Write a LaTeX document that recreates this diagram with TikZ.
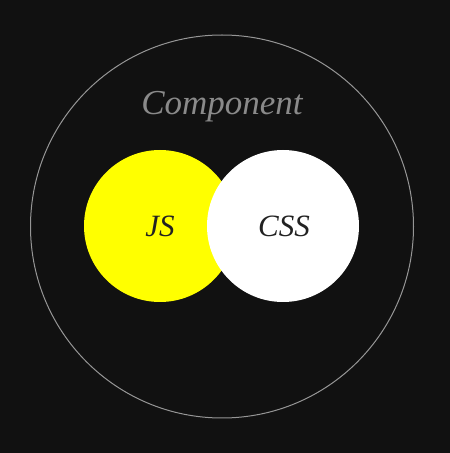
\documentclass[tikz,border=0pt]{standalone}
\usepackage{tikz}
\usetikzlibrary{backgrounds}
\usepackage{xcolor}
\usepackage{fontspec}
\setmainfont{Liberation Serif}
\definecolor{page-dark}{RGB}{17,17,17}
\definecolor{ring-grey}{RGB}{150,150,150}
\definecolor{label-grey}{RGB}{138,138,138}
\definecolor{js-yellow}{RGB}{255,255,0}
\definecolor{ink-dark}{RGB}{34,34,34}
\tikzstyle{ring}=[circle, draw=ring-grey, line width=1pt, minimum size=383pt, inner sep=0pt]
\tikzstyle{blob}=[circle, minimum size=152pt, inner sep=0pt]
\tikzstyle{jsblob}=[blob, fill=js-yellow]
\tikzstyle{cssblob}=[blob, fill=white]
\tikzstyle{caption}=[font=\fontsize{35}{38}\selectfont\itshape, text=label-grey, anchor=base]
\tikzstyle{tag}=[font=\fontsize{31}{34}\selectfont\itshape, text=ink-dark, anchor=base]
\tikzstyle{rectangular}=[x=1pt, y=1pt]

\begin{document}
\begin{tikzpicture}[rectangular]
	\fill[page-dark] (0,0) rectangle (450,453);
	\useasboundingbox (0,0) rectangle (450,453);
	\node[ring] (component) at (222,226.5) {};
	\node[jsblob] (js) at (160,227) {};
	\node[cssblob] (css) at (283,227) {};
	\node[caption] (component-label) at (222,338) {Component};
	\node[tag] (js-label) at (160,216) {JS};
	\node[tag] (css-label) at (284,216) {CSS};
\end{tikzpicture}
\end{document}
